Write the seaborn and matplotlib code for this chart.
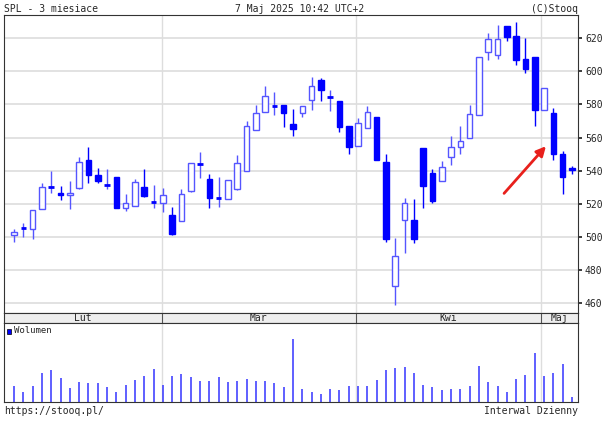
import numpy as np
import matplotlib
matplotlib.use('Agg')
import matplotlib.pyplot as plt
import seaborn as sns

# SPL daily candles, ~3 months
opens = [501.3, 505, 505, 516.6, 530, 526.2, 525, 529.6, 546.7, 537.3,
         531.2, 536.1, 517.6, 518.8, 530, 521, 520.6, 513.2, 509.8, 527.6,
         544, 535.1, 523.2, 523, 529, 539.7, 564.8, 575.4, 578.8, 579.8,
         568.2, 574.8, 582.6, 594.7, 584.5, 582.2, 566.8, 554.7, 565.8, 572.2,
         545.1, 470.4, 510.2, 510, 553.7, 538.3, 533.5, 548.5, 554.1, 559.8,
         573.8, 611.6, 610, 627.6, 621.4, 607.4, 608.6, 576.8, 574.8, 550.3,
         541.5]
closes = [503.1, 505.3, 516.2, 530.2, 530.3, 525.4, 526.6, 545, 537.3, 534,
          531.5, 517.6, 520.6, 533.3, 524.8, 521.3, 525, 501.5, 526, 544.7,
          544.3, 523.6, 523.5, 534.5, 544.7, 567.2, 574.8, 584.9, 579.1, 574.8,
          565.2, 579.3, 591.1, 588.9, 584.8, 566.4, 554.3, 568.8, 575.6, 546.3,
          498.9, 488.5, 520.2, 498.9, 531, 521.6, 542.3, 554.1, 558, 574.2,
          608.8, 619.4, 619.4, 621, 607, 601.6, 576.8, 589.7, 550.3, 536.3,
          540.3]
highs = [504.5, 508.5, 516.2, 532.6, 539.7, 530.6, 533.7, 548.3, 554.1, 541.7,
         540.7, 536.1, 526, 535.1, 541.1, 531.6, 529.6, 518, 528.6, 544.7,
         551, 538.1, 536, 534.5, 549.3, 569.8, 579.6, 590.9, 587.3, 579.8,
         577.4, 579.3, 596.3, 596, 588.9, 582.2, 566.8, 572, 578.8, 572.2,
         550.1, 499.5, 523.6, 522.6, 553.7, 541.1, 545.9, 560.8, 567.2, 579.6,
         608.8, 623.4, 628, 627.6, 629.6, 620.4, 608.6, 589.7, 578, 551.7,
         542.5]
lows = [497, 500, 499, 516.6, 526.6, 522.2, 517, 529, 532.6, 532.6,
        528.6, 517.2, 515.4, 518.8, 524, 517.6, 515, 501.1, 509.8, 527,
        535.3, 517.6, 518.2, 523, 528, 539.7, 564.8, 575.4, 573.8, 566.4,
        561.2, 572.4, 576.6, 581.8, 575.8, 563.4, 550.3, 554.7, 565.8, 546.3,
        497.1, 458.8, 490.5, 496.5, 517.6, 520.2, 533.5, 543.1, 550.1, 559.8,
        573.8, 607, 607.4, 618, 604, 598.9, 567.2, 576.8, 546.3, 525.8,
        537.7]
volume = [52, 32, 50, 93, 102, 76, 45, 64, 61, 61,
          48, 32, 55, 70, 82, 104, 55, 82, 88, 79,
          66, 68, 79, 64, 68, 73, 68, 66, 61, 48,
          198, 41, 31, 25, 41, 39, 50, 52, 50, 70,
          100, 109, 110, 91, 55, 46, 39, 41, 41, 50,
          113, 64, 52, 32, 73, 86, 154, 82, 91, 120,
          16]
month_lines = [15.9, 36.8, 56.7]
month_labels = ['Lut', 'Mar', 'Kwi', 'Maj']
month_label_pos = [7.4, 26.3, 46.7, 58.7]
yticks = [460, 480, 500, 520, 540, 560, 580, 600, 620]

sns.set_theme(style='white')
plt.rcParams['font.family'] = ['DejaVu Sans Mono']
plt.rcParams['font.size'] = 7

BLUE = '#0000ff'
LBLUE = '#5555ff'
GRID = '#dddddd'

fig = plt.figure(figsize=(6.05, 4.22), dpi=100)
W, H = 605, 422
def rect(x0, y0, x1, y1):
    return [x0 / W, 1 - y1 / H, (x1 - x0) / W, (y1 - y0) / H]

ax = fig.add_axes(rect(4, 15, 578, 313))
axs = fig.add_axes(rect(4, 313, 578, 323))
axv = fig.add_axes(rect(4, 323, 578, 402))

xlim = (-1.08, 60.65)
n = len(opens)
x = np.arange(n)

# candles
for i in range(n):
    o, c, h, l = opens[i], closes[i], highs[i], lows[i]
    up = c >= o
    col = LBLUE if up else BLUE
    ax.vlines(i, l, h, color=col, lw=1, zorder=2)
    lo, hi = min(o, c), max(o, c)
    if hi - lo < 0.8:
        ax.hlines((o + c) / 2, i - 0.3, i + 0.3, color=BLUE, lw=2, zorder=3)
    elif up:
        ax.add_patch(plt.Rectangle((i - 0.3, lo), 0.6, hi - lo, facecolor='white',
                                   edgecolor=LBLUE, lw=1, zorder=3))
    else:
        ax.add_patch(plt.Rectangle((i - 0.3, lo), 0.6, hi - lo, facecolor=BLUE,
                                   edgecolor=BLUE, lw=1, zorder=3))

ax.set_xlim(*xlim)
ax.set_ylim(454, 634)
for yv in yticks:
    ax.axhline(yv, color=GRID, lw=1.2, zorder=0)
for xv in month_lines:
    ax.axvline(xv, color=GRID, lw=1, zorder=0)
ax.set_xticks([])
ax.set_yticks(yticks)
ax.yaxis.tick_right()
ax.tick_params(axis='y', direction='out', length=3, pad=2, labelsize=7, right=True)
ax.annotate('', xy=(57.4, 556), xytext=(52.5, 525),
            arrowprops=dict(arrowstyle='-|>', color='#e8201c', lw=2,
                            mutation_scale=14))

# month strip
axs.set_xlim(*xlim)
axs.set_facecolor('#eeeeee')
axs.set_xticks([])
axs.set_yticks([])
for xv in month_lines:
    axs.axvline(xv, color='#555555', lw=0.8)
for xv, lab in zip(month_label_pos, month_labels):
    axs.text(xv, 0.5, lab, ha='center', va='center', fontsize=7,
             transform=axs.get_xaxis_transform())

# volume
axv.vlines(x, 0, volume, color='#4444ff', lw=1.2)
axv.set_xlim(*xlim)
axv.set_ylim(0, 250)
for xv in month_lines:
    axv.axvline(xv, color=GRID, lw=1, zorder=0)
axv.set_xticks([])
axv.set_yticks([])
axv.add_patch(plt.Rectangle((0.005, 0.86), 0.008, 0.07, transform=axv.transAxes,
                            facecolor=BLUE, edgecolor='black', lw=0.5))
axv.text(0.018, 0.9, 'Wolumen', transform=axv.transAxes, va='center', fontsize=6.5)

for a in (ax, axs, axv):
    for s in a.spines.values():
        s.set_color('#333333')
        s.set_linewidth(0.8)

fig.text(4 / W, 1 - 9 / H, 'SPL - 3 miesiace', ha='left', va='center', fontsize=7)
fig.text(300 / W, 1 - 9 / H, '7 Maj 2025 10:42 UTC+2', ha='center', va='center', fontsize=7)
fig.text(578 / W, 1 - 9 / H, '(C)Stooq', ha='right', va='center', fontsize=7)
fig.text(4 / W, 1 - 411 / H, 'https://stooq.pl/', ha='left', va='center', fontsize=7)
fig.text(578 / W, 1 - 411 / H, 'Interwal Dzienny', ha='right', va='center', fontsize=7)

fig.savefig('out.png', dpi=100)
